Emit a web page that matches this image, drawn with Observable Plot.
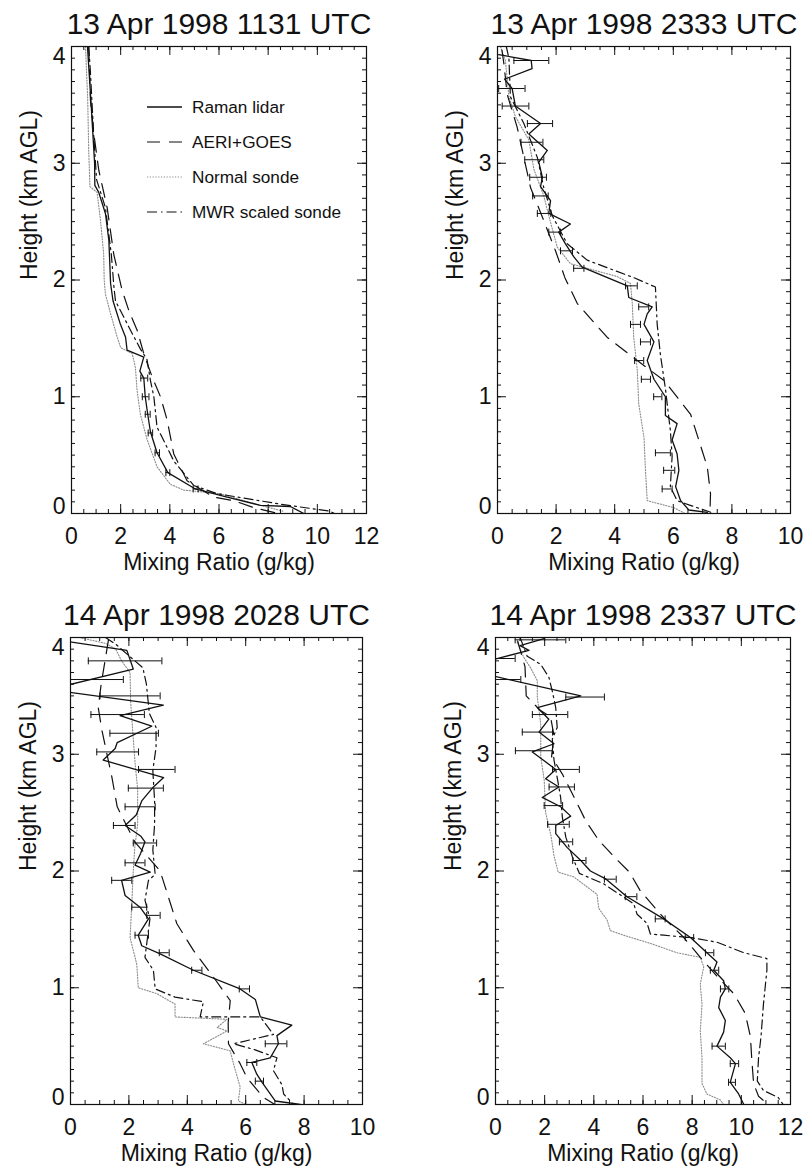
<!DOCTYPE html>
<html><head><meta charset="utf-8">
<script src="https://cdn.jsdelivr.net/npm/d3@7"></script>
<script src="https://cdn.jsdelivr.net/npm/@observablehq/plot@0.6"></script>
<style>
body{margin:0;background:#fff;}
#root{position:relative;width:805px;height:1170px;font-family:"Liberation Sans",Arial,Helvetica,sans-serif;overflow:hidden;}
.panel{position:absolute;}
.panel svg{overflow:visible;}
</style></head><body><div id="root"></div>
<script>
// ---------- tick labels / categories ----------
const titles = ["13 Apr 1998 1131 UTC","13 Apr 1998 2333 UTC","14 Apr 1998 2028 UTC","14 Apr 1998 2337 UTC"];
const xTicks12 = [0,2,4,6,8,10,12];
const xTicks10 = [0,2,4,6,8,10];
const yTicks = [0,1,2,3,4];
const xLabel = "Mixing Ratio (g/kg)";
const yLabel = "Height (km AGL)";
const legendLabels = ["Raman lidar","AERI+GOES","Normal sonde","MWR scaled sonde"];

// ---------- Panel 1: 13 Apr 1998 1131 UTC  [mixing ratio, height] ----------
const p1Raman = [[0.65,4.0],[0.8,3.5],[0.94,3.0],[0.95,2.81],[1.11,2.75],[1.38,2.57],[1.52,2.34],[1.59,1.97],[1.69,1.82],[1.99,1.62],[2.2,1.51],[2.26,1.40],[2.94,1.34],[2.78,1.22],[2.94,1.16],[3.0,1.0],[3.1,0.85],[3.21,0.70],[3.48,0.52],[3.92,0.35],[5.04,0.21],[6.33,0.14],[7.68,0.07],[8.9,0.06],[9.45,0.0]];
const p1Err = [[1.16,2.82,3.1],[1.0,2.88,3.15],[0.85,3.0,3.2],[0.69,3.12,3.3],[0.52,3.4,3.58],[0.35,3.84,4.0],[0.21,4.95,5.15]];
const p1Aeri = [[0.7,4.0],[0.77,3.54],[0.91,3.25],[1.11,2.94],[1.45,2.62],[1.72,2.22],[2.06,1.91],[2.33,1.74],[2.67,1.57],[2.94,1.37],[3.28,1.17],[3.62,1.0],[3.89,0.80],[4.16,0.51],[4.7,0.28],[5.78,0.14],[6.6,0.11],[7.41,0.05],[8.4,0.0]];
const p1Sonde = [[0.57,4.0],[0.66,3.54],[0.7,3.11],[0.75,2.8],[1.04,2.75],[1.18,2.51],[1.31,2.22],[1.33,2.0],[1.38,1.88],[1.59,1.71],[1.86,1.51],[2.0,1.42],[2.47,1.37],[2.6,1.25],[2.67,1.05],[2.8,0.85],[3.08,0.63],[3.48,0.40],[4.02,0.25],[4.57,0.20],[6.05,0.17],[7.5,0.08],[8.6,0.02]];
const p1Mwr = [[0.7,4.0],[0.77,3.78],[0.9,3.25],[1.02,2.86],[1.38,2.62],[1.62,2.22],[1.73,1.93],[1.79,1.82],[2.4,1.57],[2.8,1.41],[3.07,1.32],[3.21,1.14],[3.35,1.0],[3.48,0.74],[4.16,0.45],[4.97,0.24],[5.92,0.17],[8.5,0.08],[10.5,0.02],[10.7,0.0]];

// ---------- Panel 2: 13 Apr 1998 2333 UTC ----------
const p2Raman = [[0.04,3.93],[1.15,3.88],[1.18,3.81],[0.24,3.72],[0.5,3.64],[0.61,3.49],[1.47,3.34],[1.07,3.25],[1.70,3.11],[1.41,3.01],[1.53,2.88],[1.47,2.80],[1.81,2.68],[1.75,2.57],[2.49,2.48],[2.09,2.41],[2.32,2.31],[2.60,2.20],[2.89,2.11],[4.43,1.95],[4.48,1.85],[5.28,1.77],[5.11,1.71],[5.0,1.62],[5.34,1.47],[5.11,1.31],[5.34,1.15],[5.73,1.0],[5.73,0.84],[6.13,0.77],[5.96,0.63],[6.13,0.51],[6.19,0.37],[6.08,0.23],[6.25,0.11],[6.53,0.03],[7.16,0.01]];
const p2Err = [[3.88,0.56,1.75],[3.64,0.04,0.94],[3.49,0.16,1.07],[3.34,1.02,1.88],[3.18,0.8,1.55],[3.03,0.93,1.58],[2.88,1.1,1.67],[2.72,1.2,1.73],[2.57,1.36,1.82],[2.41,1.75,2.15],[2.25,2.15,2.56],[2.1,2.6,2.95],[1.95,4.37,4.77],[1.77,4.82,5.16],[1.62,4.54,4.88],[1.47,4.88,5.22],[1.31,4.68,4.99],[1.15,4.91,5.22],[1.0,5.33,5.61],[0.52,5.39,5.9],[0.37,5.67,6.05],[0.21,5.62,5.96]];
const p2Aeri = [[0.15,3.97],[0.22,3.85],[0.33,3.59],[0.67,3.31],[0.9,3.05],[1.13,2.79],[1.53,2.54],[1.98,2.25],[2.3,2.02],[2.72,1.80],[3.74,1.51],[4.77,1.31],[5.68,1.14],[6.59,0.85],[7.16,0.40],[7.27,0.17],[7.25,0.0]];
const p2Sonde = [[0.1,4.0],[0.27,3.88],[0.39,3.57],[0.61,3.40],[1.07,3.2],[1.24,2.95],[1.58,2.72],[1.75,2.55],[2.04,2.28],[2.49,2.14],[4.08,2.03],[4.54,1.97],[4.6,1.80],[4.65,1.51],[4.77,1.23],[4.82,0.94],[5.0,0.65],[5.05,0.37],[5.11,0.11],[6.02,0.05],[6.4,0.0]];
const p2Mwr = [[0.3,4.0],[0.39,3.9],[0.44,3.57],[0.9,3.34],[1.36,3.05],[1.58,2.79],[1.87,2.55],[2.38,2.31],[3.06,2.17],[4.65,2.02],[5.39,1.94],[5.45,1.62],[5.56,1.36],[5.73,1.07],[5.9,0.71],[5.96,0.49],[5.9,0.23],[6.13,0.11],[6.58,0.07],[7.4,0.0]];

// ---------- Panel 3: 14 Apr 1998 2028 UTC ----------
const p3Raman = [[-0.2,3.97],[1.93,3.89],[2.15,3.73],[-0.3,3.58],[-0.3,3.54],[3.18,3.42],[1.7,3.33],[2.78,3.24],[1.6,3.1],[1.53,3.05],[1.12,2.95],[3.19,2.80],[2.84,2.72],[2.44,2.60],[2.25,2.48],[1.87,2.39],[2.4,2.30],[2.55,2.25],[2.4,2.15],[2.21,2.05],[2.73,1.99],[1.75,1.92],[1.87,1.79],[2.38,1.69],[2.67,1.59],[2.32,1.45],[2.44,1.36],[3.07,1.29],[4.21,1.15],[5.81,0.99],[6.33,0.90],[6.5,0.75],[7.58,0.68],[7.07,0.59],[7.12,0.52],[6.84,0.40],[6.21,0.36],[6.38,0.26],[6.56,0.19],[6.84,0.09],[7.01,0.03],[7.87,0.0]];
const p3Err = [[3.80,0.61,3.13],[3.64,0.0,1.81],[3.50,1.01,3.07],[3.34,0.70,2.53],[3.18,1.35,3.01],[3.02,0.9,2.33],[2.87,2.33,3.58],[2.71,1.98,3.18],[2.55,1.87,2.9],[2.39,1.47,2.21],[2.24,2.15,2.95],[2.07,1.87,2.55],[1.92,1.41,2.1],[1.69,2.1,2.61],[1.62,2.61,3.07],[1.45,2.21,2.67],[1.30,3.04,3.38],[1.15,4.15,4.5],[0.99,5.78,6.13],[0.52,6.67,7.41],[0.36,6.04,6.38],[0.20,6.33,6.61]];
const p3Aeri = [[1.3,3.98],[1.05,3.6],[0.95,3.4],[1.08,3.2],[1.42,2.8],[1.6,2.55],[2.2,2.25],[3.07,2.0],[3.64,1.55],[4.21,1.32],[4.9,1.09],[5.47,0.89],[5.4,0.7],[5.41,0.52],[5.81,0.35],[6.04,0.23],[6.61,0.06],[7.0,0.0]];
const p3Sonde = [[0.3,4.0],[1.2,3.95],[1.55,3.9],[1.75,3.8],[2.04,3.7],[2.06,3.45],[2.13,3.2],[2.22,2.9],[2.3,2.7],[2.3,2.4],[2.2,2.2],[2.15,2.0],[2.1,1.72],[2.04,1.43],[2.27,1.2],[2.32,1.0],[2.95,0.95],[3.58,0.86],[3.58,0.75],[5.36,0.73],[5.02,0.66],[5.36,0.63],[4.55,0.52],[5.47,0.46],[5.58,0.35],[5.81,0.15],[5.75,0.03],[6.0,0.0]];
const p3Mwr = [[1.2,4.0],[1.56,3.94],[2.48,3.74],[2.6,3.6],[2.7,3.35],[2.93,3.23],[2.93,3.06],[2.82,2.86],[2.88,2.6],[2.88,2.4],[2.82,2.18],[2.9,1.97],[2.67,1.92],[2.55,1.75],[2.72,1.59],[2.55,1.26],[2.84,1.15],[2.9,0.99],[3.58,0.92],[4.55,0.88],[4.44,0.75],[6.5,0.75],[6.95,0.60],[5.58,0.52],[6.3,0.47],[7.07,0.40],[6.95,0.29],[7.24,0.17],[7.3,0.09],[7.64,0.0]];

// ---------- Panel 4: 14 Apr 1998 2337 UTC ----------
const p4Raman = [[1.97,3.99],[1.0,3.93],[1.36,3.89],[-0.3,3.80],[-0.3,3.68],[3.47,3.50],[1.70,3.40],[2.17,3.30],[1.77,3.19],[2.38,3.09],[1.50,3.02],[2.45,2.87],[2.04,2.79],[2.58,2.72],[1.90,2.63],[2.65,2.55],[3.06,2.47],[2.45,2.39],[2.45,2.32],[2.92,2.2],[3.47,2.09],[3.86,2.0],[4.5,1.93],[5.35,1.78],[6.84,1.59],[7.93,1.43],[8.6,1.30],[9.01,1.22],[8.88,1.15],[9.28,1.06],[9.35,0.99],[9.15,0.92],[9.08,0.83],[9.35,0.72],[9.28,0.62],[9.01,0.50],[9.55,0.40],[9.76,0.35],[9.55,0.19],[9.89,0.09],[10.1,0.0]];
const p4Err = [[3.98,0.8,2.86],[3.82,0.0,0.8],[3.64,0.0,1.03],[3.49,2.86,4.43],[3.34,1.5,2.94],[3.19,1.09,2.32],[3.03,0.81,2.32],[2.87,2.32,3.41],[2.72,2.18,3.21],[2.56,1.98,2.73],[2.40,2.12,3.0],[2.25,2.6,3.14],[2.09,3.14,3.68],[1.93,4.43,4.91],[1.78,5.28,5.75],[1.59,6.5,6.9],[1.43,7.72,8.06],[1.30,8.54,8.88],[1.15,8.74,9.08],[0.99,9.15,9.49],[0.50,8.81,9.35],[0.35,9.55,9.89],[0.19,9.48,9.76]];
const p4Aeri = [[0.9,3.97],[1.2,3.75],[1.25,3.5],[1.8,3.38],[2.24,3.32],[2.38,3.16],[2.28,2.98],[2.72,2.83],[3.2,2.63],[3.67,2.43],[4.21,2.26],[4.83,2.12],[5.45,1.99],[5.89,1.83],[6.84,1.60],[7.66,1.43],[8.33,1.26],[9.0,1.1],[9.69,0.95],[10.16,0.78],[10.37,0.58],[10.43,0.37],[10.5,0.18],[10.7,0.07],[11.1,0.0]];
const p4Sonde = [[0.88,3.96],[1.15,3.83],[1.43,3.74],[1.7,3.63],[1.7,3.49],[1.84,3.26],[1.84,2.98],[1.98,2.78],[2.04,2.5],[2.26,2.3],[2.38,2.13],[2.55,1.99],[3.18,1.95],[4.13,1.80],[4.2,1.68],[4.54,1.58],[4.67,1.49],[5.21,1.45],[6.3,1.38],[7.38,1.30],[8.33,1.26],[8.47,1.18],[8.33,1.03],[8.4,0.86],[8.33,0.63],[8.4,0.40],[8.4,0.18],[8.6,0.09],[9.14,0.04],[9.28,0.0]];
const p4Mwr = [[1.0,4.0],[1.29,3.84],[1.84,3.77],[2.17,3.66],[2.31,3.54],[2.45,3.4],[2.51,3.23],[2.31,3.13],[2.38,2.95],[2.51,2.8],[2.65,2.63],[2.72,2.46],[2.86,2.29],[3.13,2.12],[3.41,1.98],[4.4,1.89],[5.62,1.72],[5.76,1.63],[6.17,1.55],[6.3,1.46],[6.84,1.45],[7.93,1.43],[9.01,1.39],[10.1,1.30],[11.04,1.25],[11.04,1.15],[10.9,0.86],[10.8,0.58],[10.7,0.40],[10.65,0.20],[10.9,0.12],[11.5,0.06],[11.7,0.0]];

// ---------- styles ----------
const INK = "#111";
const FONT = "'Liberation Sans', Arial, Helvetica, sans-serif";
const styles = {
  raman: {stroke: INK, strokeWidth: 1.3},
  aeri:  {stroke: INK, strokeWidth: 1.2, strokeDasharray: "14,9"},
  sonde: {stroke: "#8c8c8c", strokeWidth: 1.1, strokeDasharray: "1.2,1.6"},
  mwr:   {stroke: INK, strokeWidth: 1.2, strokeDasharray: "9,4,2,4"}
};
const vbar = {draw(ctx, size) { const r = Math.sqrt(size / Math.PI); ctx.moveTo(0, -r); ctx.lineTo(0, r); }};

const panels = [
  {left: 0,   top: 0,   w: 402, h: 590, m: {t: 46, b: 77, l: 71, r: 36}, xMax: 12, xt: xTicks12, title: titles[0], raman: p1Raman, err: p1Err, aeri: p1Aeri, sonde: p1Sonde, mwr: p1Mwr},
  {left: 402, top: 0,   w: 403, h: 590, m: {t: 46, b: 77, l: 95, r: 15}, xMax: 10, xt: xTicks10, title: titles[1], raman: p2Raman, err: p2Err, aeri: p2Aeri, sonde: p2Sonde, mwr: p2Mwr},
  {left: 0,   top: 590, w: 402, h: 580, m: {t: 47, b: 66, l: 70, r: 40}, xMax: 10, xt: xTicks10, title: titles[2], raman: p3Raman, err: p3Err, aeri: p3Aeri, sonde: p3Sonde, mwr: p3Mwr},
  {left: 402, top: 590, w: 403, h: 580, m: {t: 47, b: 66, l: 93, r: 15}, xMax: 12, xt: xTicks12, title: titles[3], raman: p4Raman, err: p4Err, aeri: p4Aeri, sonde: p4Sonde, mwr: p4Mwr}
];

const root = document.getElementById("root");
const X = d => d[0], Y = d => d[1];

for (const p of panels) {
  const PW = p.w - p.m.l - p.m.r, PH = p.h - p.m.t - p.m.b;
  const minX = d3.range(0, p.xMax + 1e-9, 0.5);
  const minY = d3.range(0, 4 + 1e-9, 0.1);
  const plot = Plot.plot({
    width: p.w, height: p.h,
    marginTop: p.m.t, marginBottom: p.m.b, marginLeft: p.m.l, marginRight: p.m.r,
    style: {background: "white", fontFamily: FONT, color: INK},
    x: {domain: [0, p.xMax]},
    y: {domain: [0, 4], axis: null},
    marks: [
      Plot.line(p.sonde, {x: X, y: Y, ...styles.sonde, clip: true}),
      Plot.line(p.aeri,  {x: X, y: Y, ...styles.aeri, clip: true}),
      Plot.line(p.mwr,   {x: X, y: Y, ...styles.mwr, clip: true}),
      Plot.line(p.raman, {x: X, y: Y, ...styles.raman, clip: true}),
      Plot.ruleY(p.err, {y: d => d[0], x1: d => d[1], x2: d => d[2], stroke: INK, strokeWidth: 1, clip: true}),
      Plot.dot(p.err, {x: d => d[1], y: d => d[0], symbol: vbar, r: 3.5, stroke: INK, fill: "none", strokeWidth: 1, clip: true}),
      Plot.dot(p.err, {x: d => d[2], y: d => d[0], symbol: vbar, r: 3.5, stroke: INK, fill: "none", strokeWidth: 1, clip: true}),
      Plot.frame({stroke: INK, strokeWidth: 1.2}),
      Plot.tickX(minX, {x: d => d, insetTop: PH - 4, stroke: INK}),
      Plot.tickX(minX, {x: d => d, insetBottom: PH - 4, stroke: INK}),
      Plot.tickX(p.xt, {x: d => d, insetTop: PH - 9, stroke: INK}),
      Plot.tickX(p.xt, {x: d => d, insetBottom: PH - 9, stroke: INK}),
      Plot.tickY(minY, {y: d => d, insetRight: PW - 4, stroke: INK}),
      Plot.tickY(minY, {y: d => d, insetLeft: PW - 4, stroke: INK}),
      Plot.tickY(yTicks, {y: d => d, insetRight: PW - 9, stroke: INK}),
      Plot.tickY(yTicks, {y: d => d, insetLeft: PW - 9, stroke: INK}),
      Plot.axisX(p.xt, {anchor: "bottom", tickSize: 0, tickPadding: 14, fontSize: 23, label: null}),
      Plot.text(yTicks.filter(v => v > 0 && v < 4), {y: d => d, text: d => String(d), frameAnchor: "left", textAnchor: "end", dx: -6, fontSize: 23}),
      Plot.text(yTicks.filter(v => v === 4), {y: d => d, text: d => String(d), frameAnchor: "left", textAnchor: "end", lineAnchor: "top", dx: -6, dy: 1, fontSize: 23}),
      Plot.text(yTicks.filter(v => v === 0), {y: d => d, text: d => String(d), frameAnchor: "left", textAnchor: "end", lineAnchor: "bottom", dx: -6, fontSize: 23}),
      Plot.text([p.title], {text: d => d, frameAnchor: "top", lineAnchor: "bottom", dy: -13, fontSize: 30}),
      Plot.text([xLabel], {text: d => d, frameAnchor: "bottom", lineAnchor: "bottom", dy: 56, fontSize: 23}),
      Plot.text([yLabel], {text: d => d, frameAnchor: "left", rotate: -90, dx: -42, fontSize: 23})
    ]
  });
  const div = document.createElement("div");
  div.className = "panel";
  div.style.left = p.left + "px";
  div.style.top = p.top + "px";
  div.appendChild(plot);
  root.appendChild(div);
}

// ---------- legend (inside panel 1) ----------
const legendStyles = [styles.raman, styles.aeri, styles.sonde, styles.mwr];
const legendDash = [null, "13,9", "1.2,1.6", "10,4,1.5,4"];
const leg = d3.select(root).append("svg")
  .attr("width", 230).attr("height", 140)
  .style("position", "absolute").style("left", "140px").style("top", "90px");
legendLabels.forEach((lab, i) => {
  const cy = 17 + i * 35;
  const s = legendStyles[i];
  leg.append("line").attr("x1", 7).attr("x2", 42).attr("y1", cy).attr("y2", cy)
    .attr("stroke", s.stroke).attr("stroke-width", s.strokeWidth)
    .attr("stroke-dasharray", legendDash[i]);
  leg.append("text").attr("x", 52).attr("y", cy + 6)
    .attr("font-size", 17.2).attr("fill", INK)
    .attr("font-family", FONT)
    .text(lab);
});
</script>
</body></html>
